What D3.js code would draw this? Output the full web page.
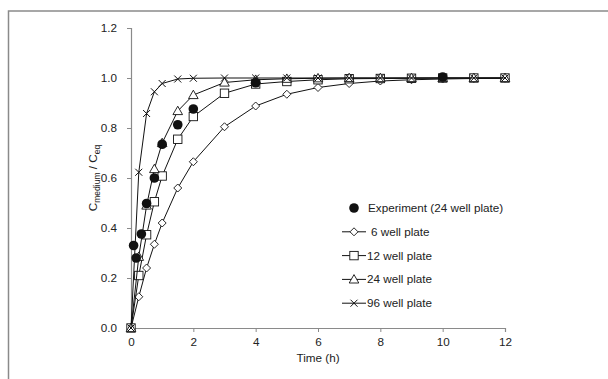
<!DOCTYPE html>
<html lang="en">
<head>
    <meta charset="UTF-8">
    <title>Cmedium / Ceq</title>
    <style>
        body{ margin:0; background:#fff; }
        svg text{ font-family:"Liberation Sans", Arial, sans-serif; fill:#222; }
    </style>
</head>
<body>
    <div id="chart"></div>
    <script src="https://cdn.jsdelivr.net/npm/d3@7"></script>
    <script>
        // model time points (h)
        var modelTime = [0, 0.25, 0.5, 0.75, 1, 1.5, 2, 3, 4, 5, 6, 7, 8, 9, 10, 11, 12];
        var well6  = [0, 0.125, 0.24, 0.335, 0.42, 0.56, 0.665, 0.805, 0.888, 0.935, 0.962, 0.978, 0.988, 0.993, 0.996, 0.998, 0.999];
        var well12 = [0, 0.21, 0.373, 0.505, 0.608, 0.755, 0.846, 0.939, 0.976, 0.986, 0.993, 0.997, 0.998, 0.999, 1.0, 1.0, 1.0];
        var well24 = [0, 0.285, 0.49, 0.636, 0.74, 0.868, 0.932, 0.982, 0.993, 0.997, 0.999, 1.0, 1.0, 1.0, 1.0, 1.0, 1.0];
        var well96 = [0, 0.623, 0.858, 0.945, 0.978, 0.996, 0.999, 1.0, 1.0, 1.0, 1.0, 1.0, 1.0, 1.0, 1.0, 1.0, 1.0];

        // experiment (24 well plate)
        var expTime  = [0.083, 0.167, 0.333, 0.5, 0.75, 1, 1.5, 2, 4, 10];
        var expValue = [0.33, 0.28, 0.376, 0.498, 0.6, 0.735, 0.813, 0.876, 0.981, 1.004];

        var xTicks = [0, 2, 4, 6, 8, 10, 12];
        var yTicks = [0, 0.2, 0.4, 0.6, 0.8, 1.0, 1.2];

        var seriesNames = ["6 well plate", "12 well plate", "24 well plate", "96 well plate"];
        var seriesValues = [well6, well12, well24, well96];
        var seriesShapes = ["diamond", "square", "triangle", "cross"];

        var width = 608, height = 379;
        var axisColor = "#8a8a8a";
        var fs = 11.7;

        var svg = d3.select("#chart").append("svg")
            .attr("width", width)
            .attr("height", height);

        // chart frame (cut at right/bottom)
        svg.append("path")
            .attr("d", "M8.5," + height + "V11H" + width)
            .attr("fill", "none")
            .attr("stroke", axisColor)
            .attr("stroke-width", 1.5);

        var x = d3.scaleLinear().domain([0, 12]).range([131, 505]);
        var y = d3.scaleLinear().domain([0, 1.2]).range([328, 28]);

        // axes
        var xAxis = svg.append("g")
            .attr("transform", "translate(0," + y(0) + ")")
            .call(d3.axisBottom(x).tickValues(xTicks).tickSize(4).tickPadding(6)
                .tickFormat(d3.format("d")));
        var yAxis = svg.append("g")
            .attr("transform", "translate(" + x(0) + ",0)")
            .call(d3.axisLeft(y).tickValues(yTicks).tickSize(4).tickPadding(10)
                .tickFormat(d3.format(".1f")));
        [xAxis, yAxis].forEach(function(a){
            a.select(".domain").attr("stroke", axisColor).attr("stroke-width", 1.2);
            a.selectAll(".tick line").attr("stroke", axisColor);
            a.selectAll(".tick text").attr("font-size", fs).style("fill", "#222")
                .attr("font-family", "Liberation Sans, Arial, sans-serif");
        });

        // axis titles
        svg.append("text")
            .attr("x", 318).attr("y", 362)
            .attr("text-anchor", "middle")
            .attr("font-size", fs)
            .text("Time (h)");

        var yt = svg.append("text")
            .attr("transform", "translate(97,178) rotate(-90)")
            .attr("text-anchor", "middle")
            .attr("font-size", fs);
        yt.append("tspan").text("C");
        yt.append("tspan").attr("font-size", 8.5).attr("dy", 3).text("medium");
        yt.append("tspan").attr("dy", -3).text(" / C");
        yt.append("tspan").attr("font-size", 8.5).attr("dy", 3).text("eq");

        // marker drawing
        function drawMarker(g, shape, cx, cy) {
            if (shape == "diamond") {
                g.append("path")
                    .attr("d", "M" + cx + "," + (cy - 4) + "L" + (cx + 4) + "," + cy + "L" + cx + "," + (cy + 4) + "L" + (cx - 4) + "," + cy + "Z")
                    .attr("fill", "#fff").attr("stroke", "#111").attr("stroke-width", 0.9);
            } else if (shape == "square") {
                g.append("rect")
                    .attr("x", cx - 4.2).attr("y", cy - 4.2)
                    .attr("width", 8.4).attr("height", 8.4)
                    .attr("fill", "#fff").attr("stroke", "#111").attr("stroke-width", 0.9);
            } else if (shape == "triangle") {
                g.append("path")
                    .attr("d", "M" + cx + "," + (cy - 4.8) + "L" + (cx + 4.8) + "," + (cy + 3.6) + "L" + (cx - 4.8) + "," + (cy + 3.6) + "Z")
                    .attr("fill", "#fff").attr("stroke", "#111").attr("stroke-width", 0.9);
            } else if (shape == "cross") {
                g.append("path")
                    .attr("d", "M" + (cx - 3.5) + "," + (cy - 3.5) + "L" + (cx + 3.5) + "," + (cy + 3.5) + "M" + (cx + 3.5) + "," + (cy - 3.5) + "L" + (cx - 3.5) + "," + (cy + 3.5))
                    .attr("fill", "none").attr("stroke", "#111").attr("stroke-width", 1);
            }
        }

        var line = d3.line()
            .x(function(d){ return x(d[0]); })
            .y(function(d){ return y(d[1]); });

        seriesValues.forEach(function(vals, k){
            var pts = modelTime.map(function(t, i){ return [t, vals[i]]; });
            var g = svg.append("g");
            g.append("path")
                .attr("d", line(pts))
                .attr("fill", "none")
                .attr("stroke", "#111")
                .attr("stroke-width", 1);
            pts.forEach(function(p){
                drawMarker(g, seriesShapes[k], x(p[0]), y(p[1]));
            });
        });

        // experiment points
        svg.append("g").selectAll("circle")
            .data(expTime)
            .enter()
            .append("circle")
            .attr("cx", function(d){ return x(d); })
            .attr("cy", function(d, i){ return y(expValue[i]); })
            .attr("r", 4.8)
            .attr("fill", "#111");

        // legend
        var legend = svg.append("g");
        var lx = 354, ly0 = 208, step = 23.8;
        legend.append("circle").attr("cx", lx).attr("cy", ly0).attr("r", 4.8).attr("fill", "#111");
        legend.append("text").attr("x", 368).attr("y", ly0 + 4).attr("font-size", fs)
            .text("Experiment (24 well plate)");
        seriesNames.forEach(function(name, k){
            var ly = ly0 + step * (k + 1);
            legend.append("line")
                .attr("x1", 342).attr("x2", 366)
                .attr("y1", ly).attr("y2", ly)
                .attr("stroke", "#111").attr("stroke-width", 1);
            drawMarker(legend, seriesShapes[k], lx, ly);
            legend.append("text")
                .attr("x", k == 0 ? 371 : 367).attr("y", ly + 4)
                .attr("font-size", fs)
                .text(name);
        });
    </script>
</body>
</html>
